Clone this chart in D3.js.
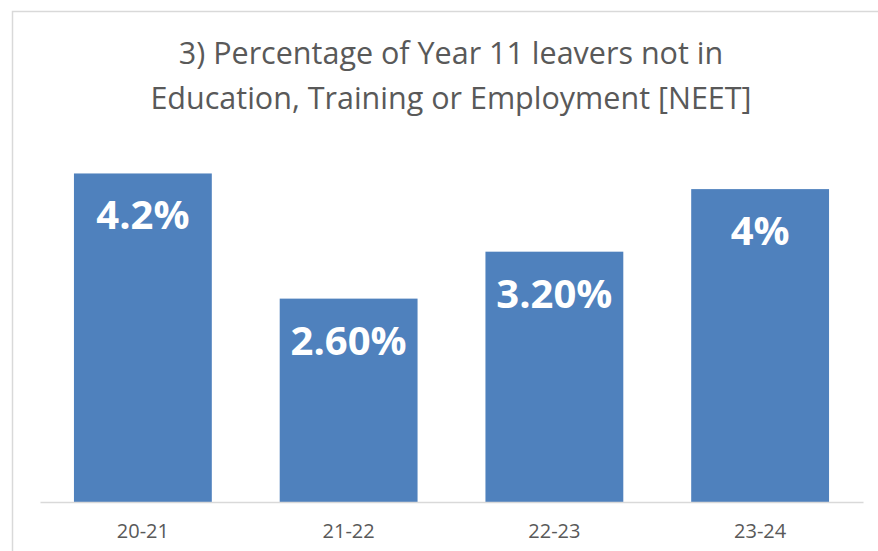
<!DOCTYPE html>
<html>
<head>
<meta charset="utf-8">
<script src="https://cdn.jsdelivr.net/npm/d3@7"></script>
<style>
  body { margin: 0; background: #fff; }
  svg { display: block; }
</style>
</head>
<body>
<svg id="chart" width="878" height="551"></svg>
<script>
// chart data
const years = ["20-21", "21-22", "22-23", "23-24"];
const neetPct = [4.2, 2.6, 3.2, 4.0];
const valueLabels = ["4.2%", "2.60%", "3.20%", "4%"];
const titleLines = [
  "3) Percentage of Year 11 leavers not in",
  "Education, Training or Employment [NEET]"
];

const svg = d3.select("#chart");
const W = 878, H = 551;
const plot = { left: 40, right: 863, top: 150, bottom: 502 };

// outer chart border (runs off the canvas on right + bottom)
svg.append("rect")
  .attr("x", 12.5).attr("y", 11.5)
  .attr("width", W).attr("height", H)
  .attr("fill", "none")
  .attr("stroke", "#d9d9d9")
  .attr("stroke-width", 1.5);

// TITLE
svg.append("g")
  .selectAll("text")
  .data(titleLines)
  .join("text")
  .attr("x", 451)
  .attr("y", (d, i) => 64 + i * 45)
  .attr("text-anchor", "middle")
  .attr("font-family", "'Open Sans', sans-serif")
  .attr("font-size", 30.5)
  .attr("fill", "#595959")
  .text(d => d);

const x = d3.scaleBand()
  .domain(years)
  .range([plot.left, plot.right])
  .paddingInner(0.33)
  .paddingOuter(0.165);

const y = d3.scaleLinear()
  .domain([0, 4.5])
  .range([plot.bottom, plot.top]);

// bars
svg.append("g")
  .selectAll("rect")
  .data(neetPct)
  .join("rect")
  .attr("x", (d, i) => x(years[i]))
  .attr("y", d => y(d))
  .attr("width", x.bandwidth())
  .attr("height", d => y(0) - y(d))
  .attr("fill", "#4f81bd");

// value labels inside top of bars
svg.append("g")
  .selectAll("text")
  .data(neetPct)
  .join("text")
  .attr("x", (d, i) => x(years[i]) + x.bandwidth() / 2)
  .attr("y", d => y(d) + 56)
  .attr("text-anchor", "middle")
  .attr("font-family", "'Open Sans', sans-serif")
  .attr("font-weight", "bold")
  .attr("font-size", 40)
  .attr("fill", "#fff")
  .text((d, i) => valueLabels[i]);

// x axis
const xAxis = svg.append("g")
  .attr("transform", `translate(0,${plot.bottom})`)
  .call(d3.axisBottom(x).tickSize(0).tickPadding(22));

xAxis.select(".domain")
  .attr("stroke", "#d9d9d9")
  .attr("stroke-width", 1.5);

xAxis.selectAll("text")
  .attr("font-family", "'Open Sans', sans-serif")
  .attr("font-size", 20)
  .attr("fill", "#595959");
</script>
</body>
</html>
